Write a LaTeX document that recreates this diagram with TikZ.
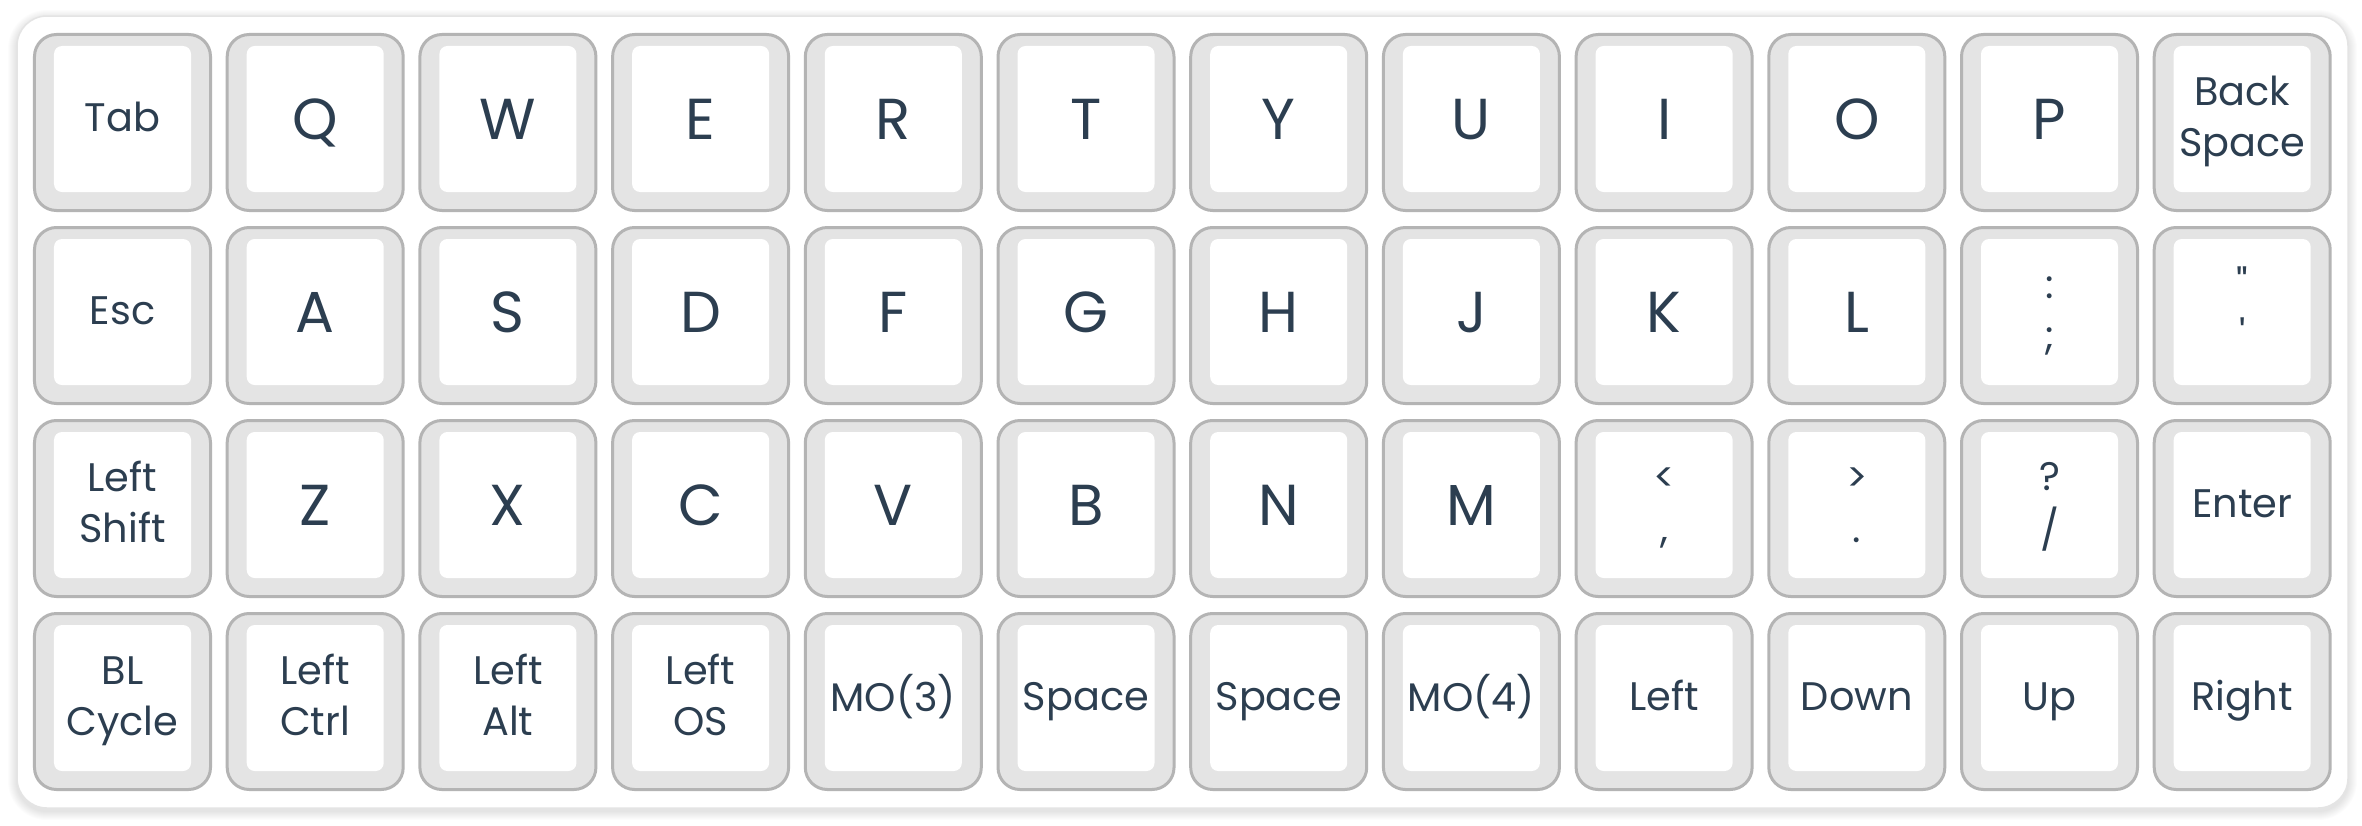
\documentclass[tikz,border=0pt]{standalone}
\usepackage{fontspec}
\newfontfamily\keyfont{Poppins}
\usetikzlibrary{calc}
\definecolor{keyedge}{HTML}{B4B4B4}
\definecolor{keyfill}{HTML}{E4E4E4}
\definecolor{keytext}{HTML}{2C3E50}
\definecolor{paneledge}{HTML}{E4E4E4}
\newcommand{\nl}{\strut\\\strut}

\begin{document}
\begin{tikzpicture}[x=1bp, y=-1bp]
      \tikzset{keycap/.style = {draw=keyedge,fill=keyfill,line width=3bp,rounded corners=22bp,
          minimum size=176bp,inner sep=0pt,
          path picture={\fill[white,rounded corners=8bp]
            ([shift={(19.5bp,-11.5bp)}]path picture bounding box.north west) rectangle
            ([shift={(-19.5bp,18.5bp)}]path picture bounding box.south east);}}}
      \tikzset{keylabel/.style = {text=keytext,align=center,inner sep=0pt,
          execute at begin node=\strut,execute at end node=\strut}}
      \tikzset{lab-s/.style = {keylabel,yshift=1.4bp,font=\keyfont\fontsize{40}{51}\selectfont}}
      \tikzset{lab-b/.style = {keylabel,yshift=-5.3bp,font=\keyfont\fontsize{58}{60}\selectfont}}

      \useasboundingbox (0,0) rectangle (2362,825);

      % panel with a soft shadow
      \foreach \s in {1,...,9}
        \fill[black,opacity=0.012,rounded corners=30+\s] (17-\s,16-\s+3) rectangle (2348+\s,808+\s+3);
      \draw[paneledge,fill=white,line width=1.5bp,rounded corners=30] (17,16) rectangle (2348,808);

      % keys
      \foreach \row [count=\r from 0] in {%
        {Tab/s,Q/b,W/b,E/b,R/b,T/b,Y/b,U/b,I/b,O/b,P/b,{Back\nl Space}/s},
        {Esc/s,A/b,S/b,D/b,F/b,G/b,H/b,J/b,K/b,L/b,{:\nl;}/s,{"\nl'}/s},
        {{Left\nl Shift}/s,Z/b,X/b,C/b,V/b,B/b,N/b,M/b,{<\nl,}/s,{>\nl.}/s,{?\nl/}/s,Enter/s},
        {{BL\nl Cycle}/s,{Left\nl Ctrl}/s,{Left\nl Alt}/s,{Left\nl OS}/s,MO(3)/s,Space/s,Space/s,MO(4)/s,Left/s,Down/s,Up/s,Right/s}}
        \foreach \lab/\sz [count=\c from 0] in \row {
          \node[keycap] (k\r-\c) at (122.5+\c*192.7,122.5+\r*193) {};
          \node[lab-\sz] (t\r-\c) at (k\r-\c.center) {\lab};
        }
\end{tikzpicture}
\end{document}
